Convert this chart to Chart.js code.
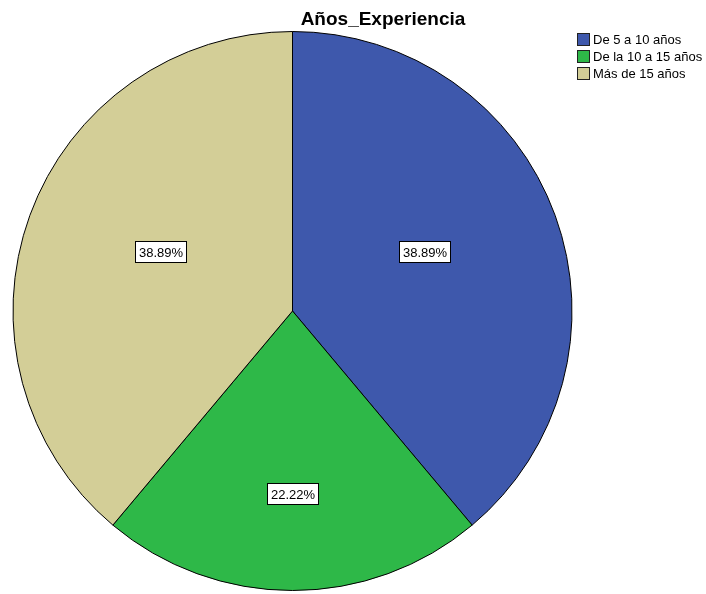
<!DOCTYPE html>
<html><head><meta charset="utf-8">
<script src="https://cdn.jsdelivr.net/npm/chart.js@4/dist/chart.umd.min.js"></script>
<style>html,body{margin:0;padding:0;background:#fff;}canvas{display:block;}</style>
</head><body>
<canvas id="c" width="706" height="594"></canvas>
<script>
const categories = ["De 5 a 10 años", "De la 10 a 15 años", "Más de 15 años"];
const values = [38.89, 22.22, 38.89];
const valueLabels = ["38.89%", "22.22%", "38.89%"];
const colors = ["#3E58AC", "#2EB848", "#D3CE97"];
const titleText = "Años_Experiencia";

const overlay = {
  id: 'overlay',
  afterDatasetsDraw(chart) {
    const ctx = chart.ctx;
    const meta = chart.getDatasetMeta(0);
    ctx.save();
    ctx.font = '13px "Liberation Sans", Arial, sans-serif';
    ctx.textAlign = 'center';
    ctx.textBaseline = 'middle';
    meta.data.forEach((arc, i) => {
      const p = arc.getProps(['x','y','startAngle','endAngle','outerRadius'], true);
      const th = p.endAngle - p.startAngle;
      const mid = (p.startAngle + p.endAngle) / 2;
      const d = 2 * p.outerRadius * Math.sin(th / 2) / (1.5 * th);
      const h = 21;
      const x = p.x + Math.cos(mid) * d - Math.sign(Math.cos(mid)) * 3 * (Math.abs(Math.cos(mid)) > 0.01 ? 1 : 0);
      const y = p.y + Math.sin(mid) * d + Math.sign(Math.sin(mid)) * h / 2;
      const t = valueLabels[i];
      const w = Math.round(ctx.measureText(t).width + 7);
      const bx = Math.round(x - w/2) + 0.5, by = Math.round(y - h/2) + 0.5;
      ctx.fillStyle = '#fff';
      ctx.fillRect(bx, by, w, h);
      ctx.strokeStyle = '#000';
      ctx.lineWidth = 1;
      ctx.strokeRect(bx, by, w, h);
      ctx.fillStyle = '#000';
      ctx.fillText(t, bx + w/2, by + h/2 + 1);
    });
    // title
    ctx.font = 'bold 19px "Liberation Sans", Arial, sans-serif';
    ctx.textAlign = 'center';
    ctx.textBaseline = 'alphabetic';
    ctx.fillText(titleText, 383, 25);
    // legend
    ctx.font = '13px "Liberation Sans", Arial, sans-serif';
    ctx.textAlign = 'left';
    ctx.textBaseline = 'middle';
    categories.forEach((c, i) => {
      const y = 39 + i * 17;
      ctx.fillStyle = colors[i];
      ctx.fillRect(577.5, y - 5.5, 12, 12);
      ctx.strokeStyle = '#222';
      ctx.strokeRect(577.5, y - 5.5, 12, 12);
      ctx.fillStyle = '#000';
      ctx.fillText(c, 593, y + 1);
    });
    ctx.restore();
  }
};

new Chart(document.getElementById('c'), {
  type: 'pie',
  data: {
    labels: categories,
    datasets: [{
      data: values,
      backgroundColor: colors,
      borderColor: '#000',
      borderWidth: 1,
      borderAlign: 'center'
    }]
  },
  options: {
    responsive: false,
    animation: false,
    layout: { padding: { left: 12, right: 133, top: 31, bottom: 3 } },
    plugins: { legend: { display: false }, title: { display: false }, tooltip: { enabled: false } }
  },
  plugins: [overlay]
});
</script>
</body></html>
